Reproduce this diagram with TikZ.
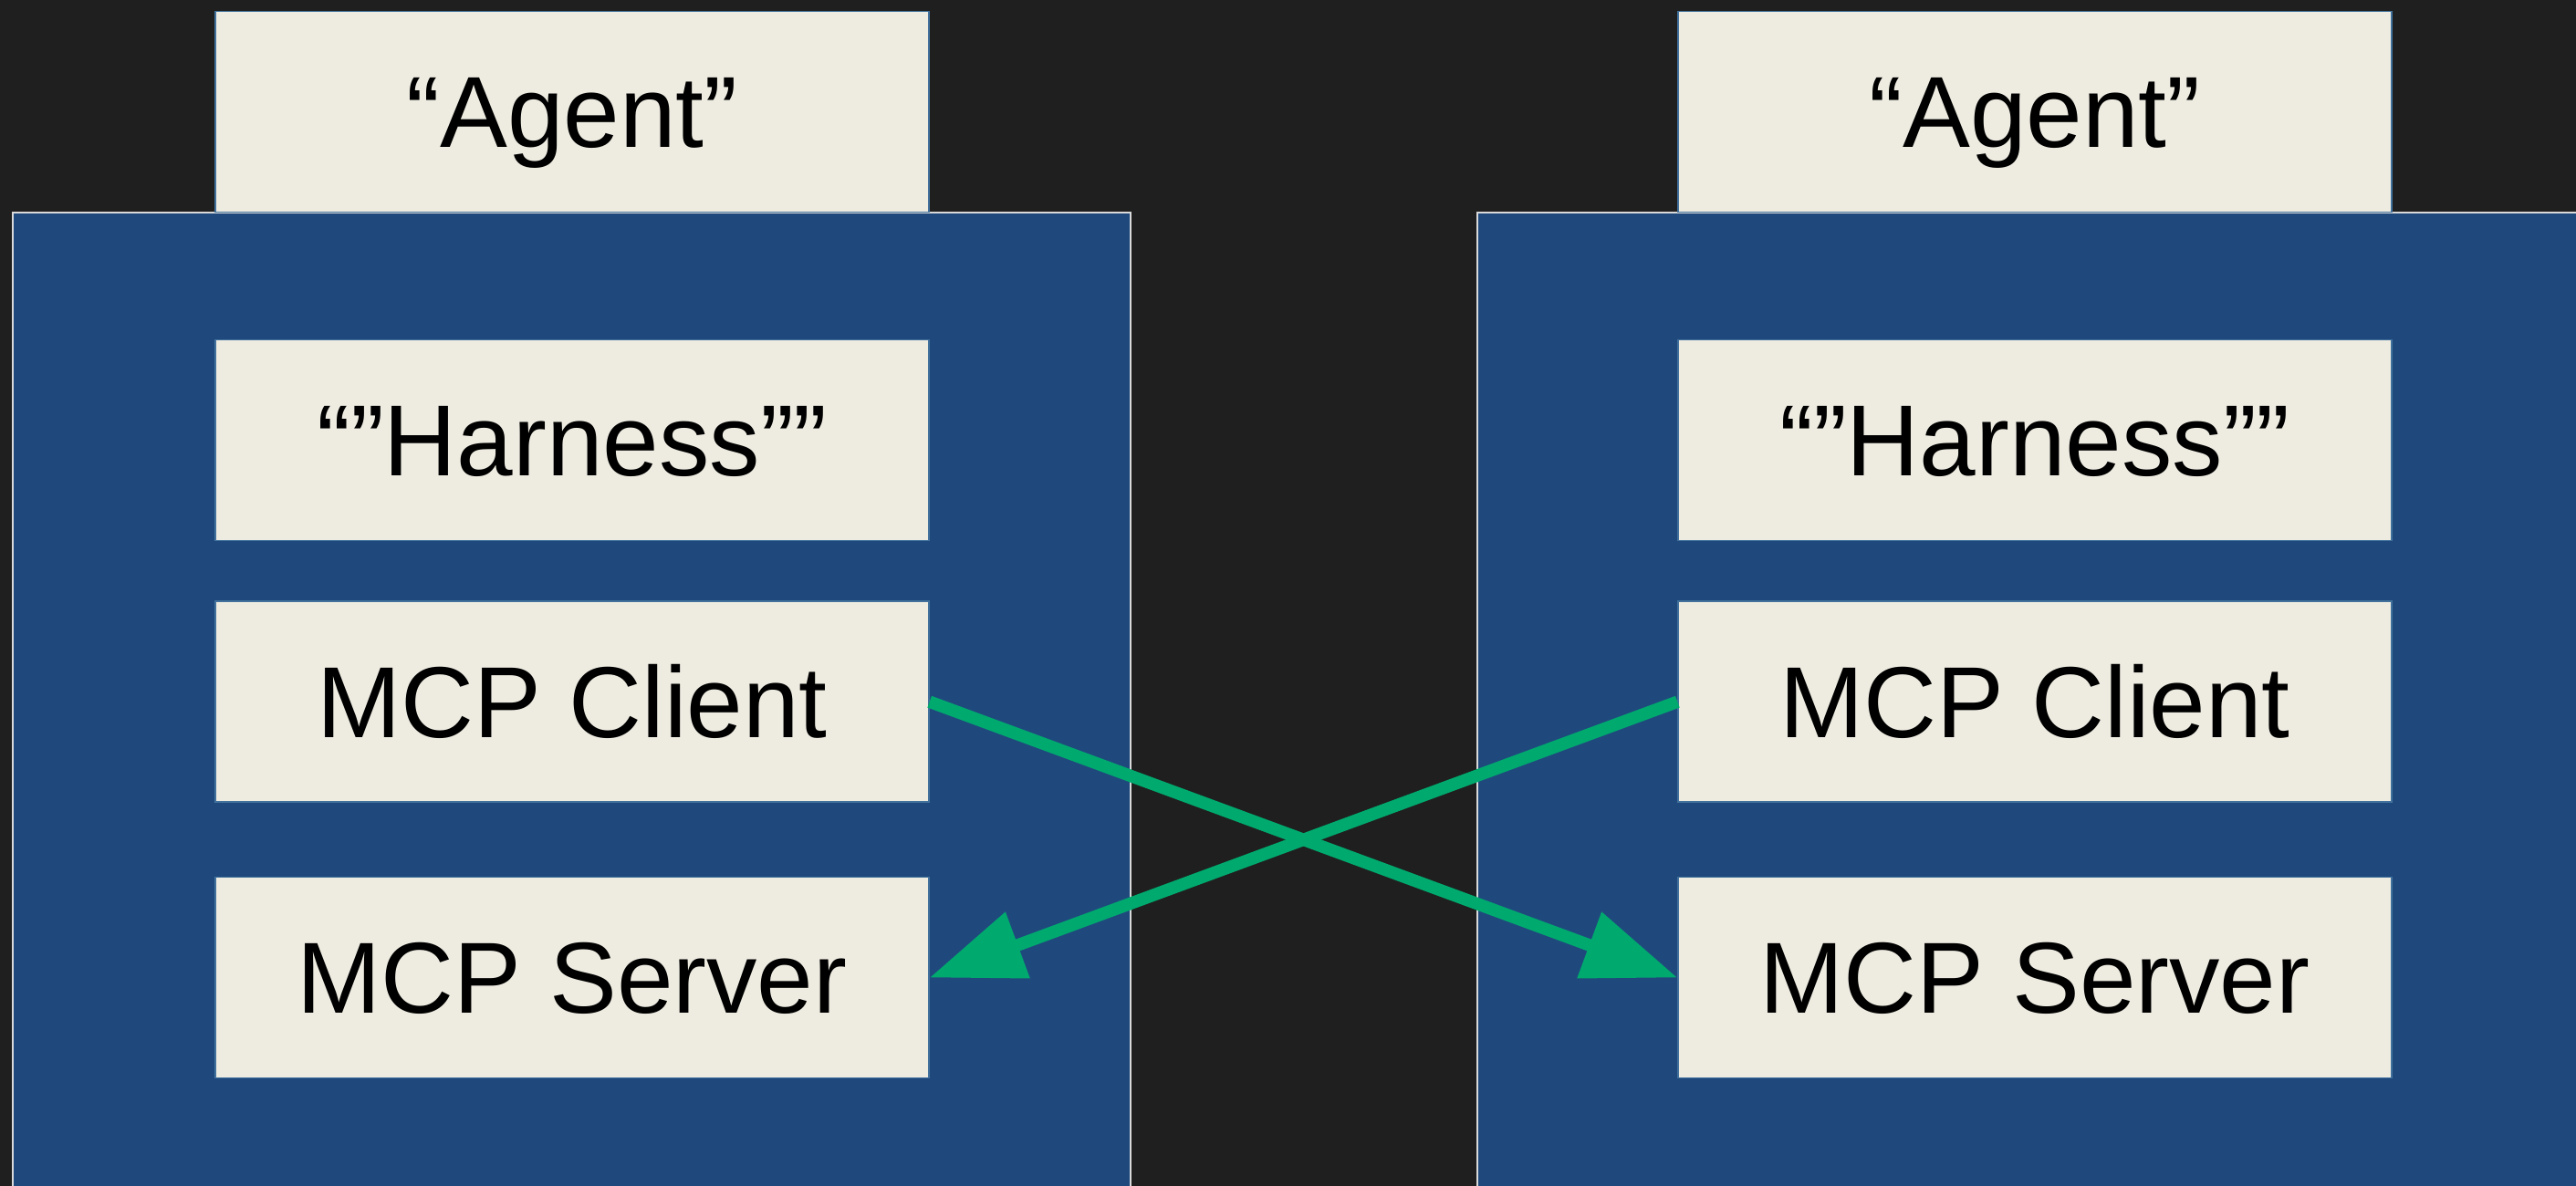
\documentclass[tikz,border=0pt]{standalone}
\usepackage{fontspec}
\setmainfont{Liberation Sans}
\usetikzlibrary{arrows.meta}

\definecolor{bgdark}{HTML}{1F1F1F}
\definecolor{hostblue}{HTML}{1F497D}
\definecolor{hostline}{HTML}{D9D9D9}
\definecolor{boxcream}{HTML}{EEECE1}
\definecolor{boxline}{HTML}{41719C}
\definecolor{linkgreen}{HTML}{00AA6E}

\tikzset{
    part/.style={fill=boxcream, draw=boxline, line width=0.4pt,
        minimum width=7.82cm, minimum height=2.2cm, inner sep=0pt,
        text height=0.78cm, text depth=0pt, font=\fontsize{31.5}{37}\selectfont},
    host/.style={fill=hostblue, draw=hostline, line width=0.6pt},
    link/.style={draw=linkgreen, line width=1.35mm,
        -{Triangle[length=10.3mm 0, width=7.4mm 0]}},
}

\begin{document}
\begin{tikzpicture}
    \clip (0,0) rectangle (28.23,13);
    \fill[bgdark] (0,0) rectangle (28.23,13);
    %
    \draw[host] (0.14,-1) rectangle (12.39,10.67);
    \draw[host] (16.19,-1) rectangle (30,10.67);
    %
    \matrix[inner sep=0pt, anchor=north] (lhost) at (6.27,12.89) {
        \node[part] (lagent)   {“Agent”};     \\[1.39cm]
        \node[part] (lharness) {“”Harness””}; \\[0.65cm]
        \node[part] (lclient)  {MCP Client};  \\[0.81cm]
        \node[part] (lserver)  {MCP Server};  \\
    };
    \matrix[inner sep=0pt, anchor=north] (rhost) at (22.30,12.89) {
        \node[part] (ragent)   {“Agent”};     \\[1.39cm]
        \node[part] (rharness) {“”Harness””}; \\[0.65cm]
        \node[part] (rclient)  {MCP Client};  \\[0.81cm]
        \node[part] (rserver)  {MCP Server};  \\
    };
    %
    \draw[link] (lclient.east) -- (rserver.west);
    \draw[link] (rclient.west) -- (lserver.east);
\end{tikzpicture}
\end{document}
